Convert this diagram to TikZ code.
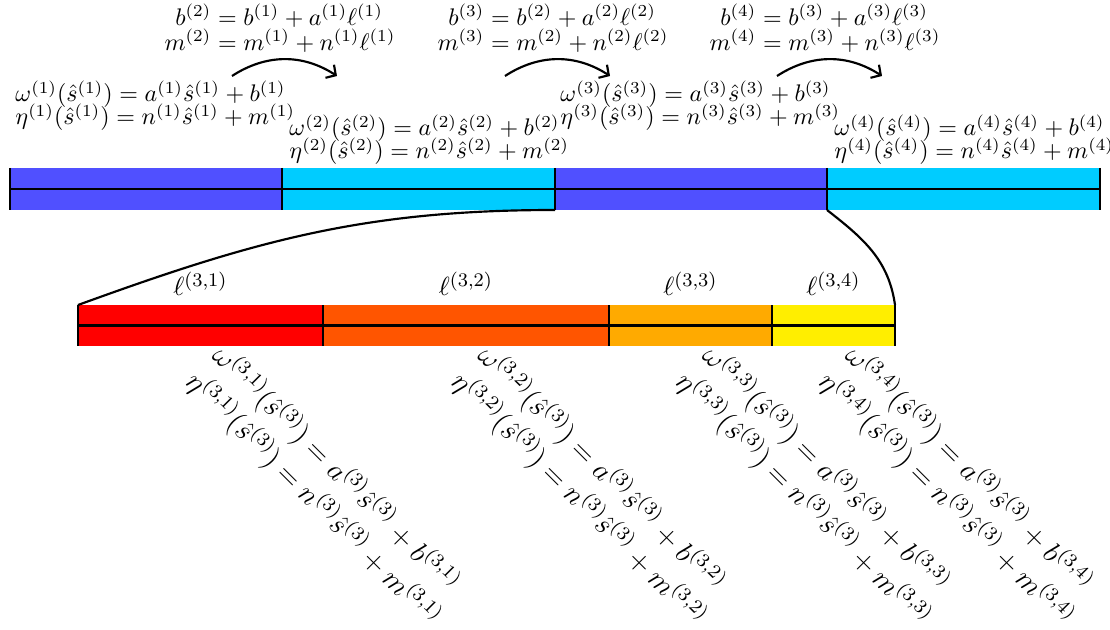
\documentclass[tikz,border=0pt]{standalone}
\usepackage{amsmath}
\usetikzlibrary{fit,arrows.meta}
\definecolor{segblue}{RGB}{80,80,255}
\definecolor{segcyan}{RGB}{0,204,255}
\definecolor{subA}{RGB}{255,0,0}
\definecolor{subB}{RGB}{255,85,0}
\definecolor{subC}{RGB}{255,170,0}
\definecolor{subD}{RGB}{255,238,0}
\setlength{\jot}{0pt}
\newcommand\mytightlines{\lineskiplimit=-20pt\relax\lineskip=0pt\relax}
\begin{document}
\begin{tikzpicture}[x=0.4167pt,y=-0.4167pt]
\tikzset{
  seg/.style={inner sep=0pt, outer sep=0pt, draw=none},
  edge/.style={line width=0.9pt, black},
  conn/.style={line width=0.9pt, black},
  flow/.style={line width=0.9pt, black, -{Straight Barb[length=3pt,width=6.5pt]}},
  toplab/.style={inner sep=0pt, align=left, anchor=north west, font=\fontsize{10}{9.6}\selectfont\mytightlines},
  updlab/.style={inner sep=0pt, anchor=north, font=\fontsize{10}{10.4}\selectfont\mytightlines},
  sublab/.style={inner sep=0pt, anchor=west, rotate=-45, align=left, font=\fontsize{12}{15.5}\selectfont},
  lenlab/.style={inner sep=0pt, anchor=south, font=\fontsize{10.95}{12}\selectfont},
}
\useasboundingbox (0,0) rectangle (1110,630);

% main bar
\node[seg, fill=segblue, fit={(10,168)(282,210)}] (A1) {};
\node[seg, fill=segcyan, fit={(282,168)(555,210)}] (A2) {};
\node[seg, fill=segblue, fit={(555,168)(827,210)}] (A3) {};
\node[seg, fill=segcyan, fit={(827,168)(1100,210)}] (A4) {};
\draw[edge] (A1.west) -- (A4.east);
\draw[edge] (A1.north west) -- (A1.south west);
\draw[edge] (A2.north west) -- (A2.south west);
\draw[edge] (A3.north west) -- (A3.south west);
\draw[edge] (A4.north west) -- (A4.south west);
\draw[edge] (A4.north east) -- (A4.south east);

% sub bar
\node[seg, fill=subA, fit={(78,305)(323,346)}] (B1) {};
\node[seg, fill=subB, fit={(323,305)(609,346)}] (B2) {};
\node[seg, fill=subC, fit={(609,305)(772,346)}] (B3) {};
\node[seg, fill=subD, fit={(772,305)(895,346)}] (B4) {};
\draw[edge] (B1.west) -- (B4.east);
\draw[edge] (B1.north west) -- (B1.south west);
\draw[edge] (B2.north west) -- (B2.south west);
\draw[edge] (B3.north west) -- (B3.south west);
\draw[edge] (B4.north west) -- (B4.south west);
\draw[edge] (B4.north east) -- (B4.south east);

% zoom connectors
\draw[conn] (A2.south east) to[out=180,in=20] (B1.north west);
\draw[conn] (A3.south east) to[out=-38,in=98] (B4.north east);

% segment labels
\node[toplab] (L1) at (15,80) {$\omega^{(1)}(\hat{s}^{(1)}) = a^{(1)}\hat{s}^{(1)} + b^{(1)}$\\$\eta^{(1)}(\hat{s}^{(1)}) = n^{(1)}\hat{s}^{(1)} + m^{(1)}$};
\node[toplab] (L2) at (289,114) {$\omega^{(2)}(\hat{s}^{(2)}) = a^{(2)}\hat{s}^{(2)} + b^{(2)}$\\$\eta^{(2)}(\hat{s}^{(2)}) = n^{(2)}\hat{s}^{(2)} + m^{(2)}$};
\node[toplab] (L3) at (560,80) {$\omega^{(3)}(\hat{s}^{(3)}) = a^{(3)}\hat{s}^{(3)} + b^{(3)}$\\$\eta^{(3)}(\hat{s}^{(3)}) = n^{(3)}\hat{s}^{(3)} + m^{(3)}$};
\node[toplab] (L4) at (834,114) {$\omega^{(4)}(\hat{s}^{(4)}) = a^{(4)}\hat{s}^{(4)} + b^{(4)}$\\$\eta^{(4)}(\hat{s}^{(4)}) = n^{(4)}\hat{s}^{(4)} + m^{(4)}$};

% update formulas
\node[updlab] (U1) at (280,3) {$\begin{aligned} b^{(2)} &= b^{(1)} + a^{(1)}\ell^{(1)}\\ m^{(2)} &= m^{(1)} + n^{(1)}\ell^{(1)}\end{aligned}$};
\node[updlab] (U2) at (553,3) {$\begin{aligned} b^{(3)} &= b^{(2)} + a^{(2)}\ell^{(2)}\\ m^{(3)} &= m^{(2)} + n^{(2)}\ell^{(2)}\end{aligned}$};
\node[updlab] (U3) at (825,3) {$\begin{aligned} b^{(4)} &= b^{(3)} + a^{(3)}\ell^{(3)}\\ m^{(4)} &= m^{(3)} + n^{(3)}\ell^{(3)}\end{aligned}$};

% flow arrows
\coordinate (f1s) at (232,76); \coordinate (f1e) at (337,76);
\coordinate (f2s) at (505,76); \coordinate (f2e) at (610,76);
\coordinate (f3s) at (777,76); \coordinate (f3e) at (882,76);
\draw[flow] (f1s) to[bend left=33] (f1e);
\draw[flow] (f2s) to[bend left=33] (f2e);
\draw[flow] (f3s) to[bend left=33] (f3e);

% length labels
\node[lenlab] (K1) at ([yshift=3.7pt]B1.north) {$\ell^{(3,1)}$};
\node[lenlab] (K2) at ([yshift=3.7pt]B2.north) {$\ell^{(3,2)}$};
\node[lenlab] (K3) at ([yshift=3.7pt]B3.north) {$\ell^{(3,3)}$};
\node[lenlab] (K4) at ([yshift=3.7pt]B4.north) {$\ell^{(3,4)}$};

% rotated sub-segment labels
\node[sublab] (S1) at ([shift={(3,18)}]B1.south) {$\omega^{(3,1)}(\hat{s}^{(3)}) = a^{(3)}\hat{s}^{(3)} + b^{(3,1)}$\\$\eta^{(3,1)}(\hat{s}^{(3)}) = n^{(3)}\hat{s}^{(3)} + m^{(3,1)}$};
\node[sublab] (S2) at ([shift={(3,18)}]B2.south) {$\omega^{(3,2)}(\hat{s}^{(3)}) = a^{(3)}\hat{s}^{(3)} + b^{(3,2)}$\\$\eta^{(3,2)}(\hat{s}^{(3)}) = n^{(3)}\hat{s}^{(3)} + m^{(3,2)}$};
\node[sublab] (S3) at ([shift={(3,18)}]B3.south) {$\omega^{(3,3)}(\hat{s}^{(3)}) = a^{(3)}\hat{s}^{(3)} + b^{(3,3)}$\\$\eta^{(3,3)}(\hat{s}^{(3)}) = n^{(3)}\hat{s}^{(3)} + m^{(3,3)}$};
\node[sublab] (S4) at ([shift={(3,18)}]B4.south) {$\omega^{(3,4)}(\hat{s}^{(3)}) = a^{(3)}\hat{s}^{(3)} + b^{(3,4)}$\\$\eta^{(3,4)}(\hat{s}^{(3)}) = n^{(3)}\hat{s}^{(3)} + m^{(3,4)}$};
\end{tikzpicture}
\end{document}
